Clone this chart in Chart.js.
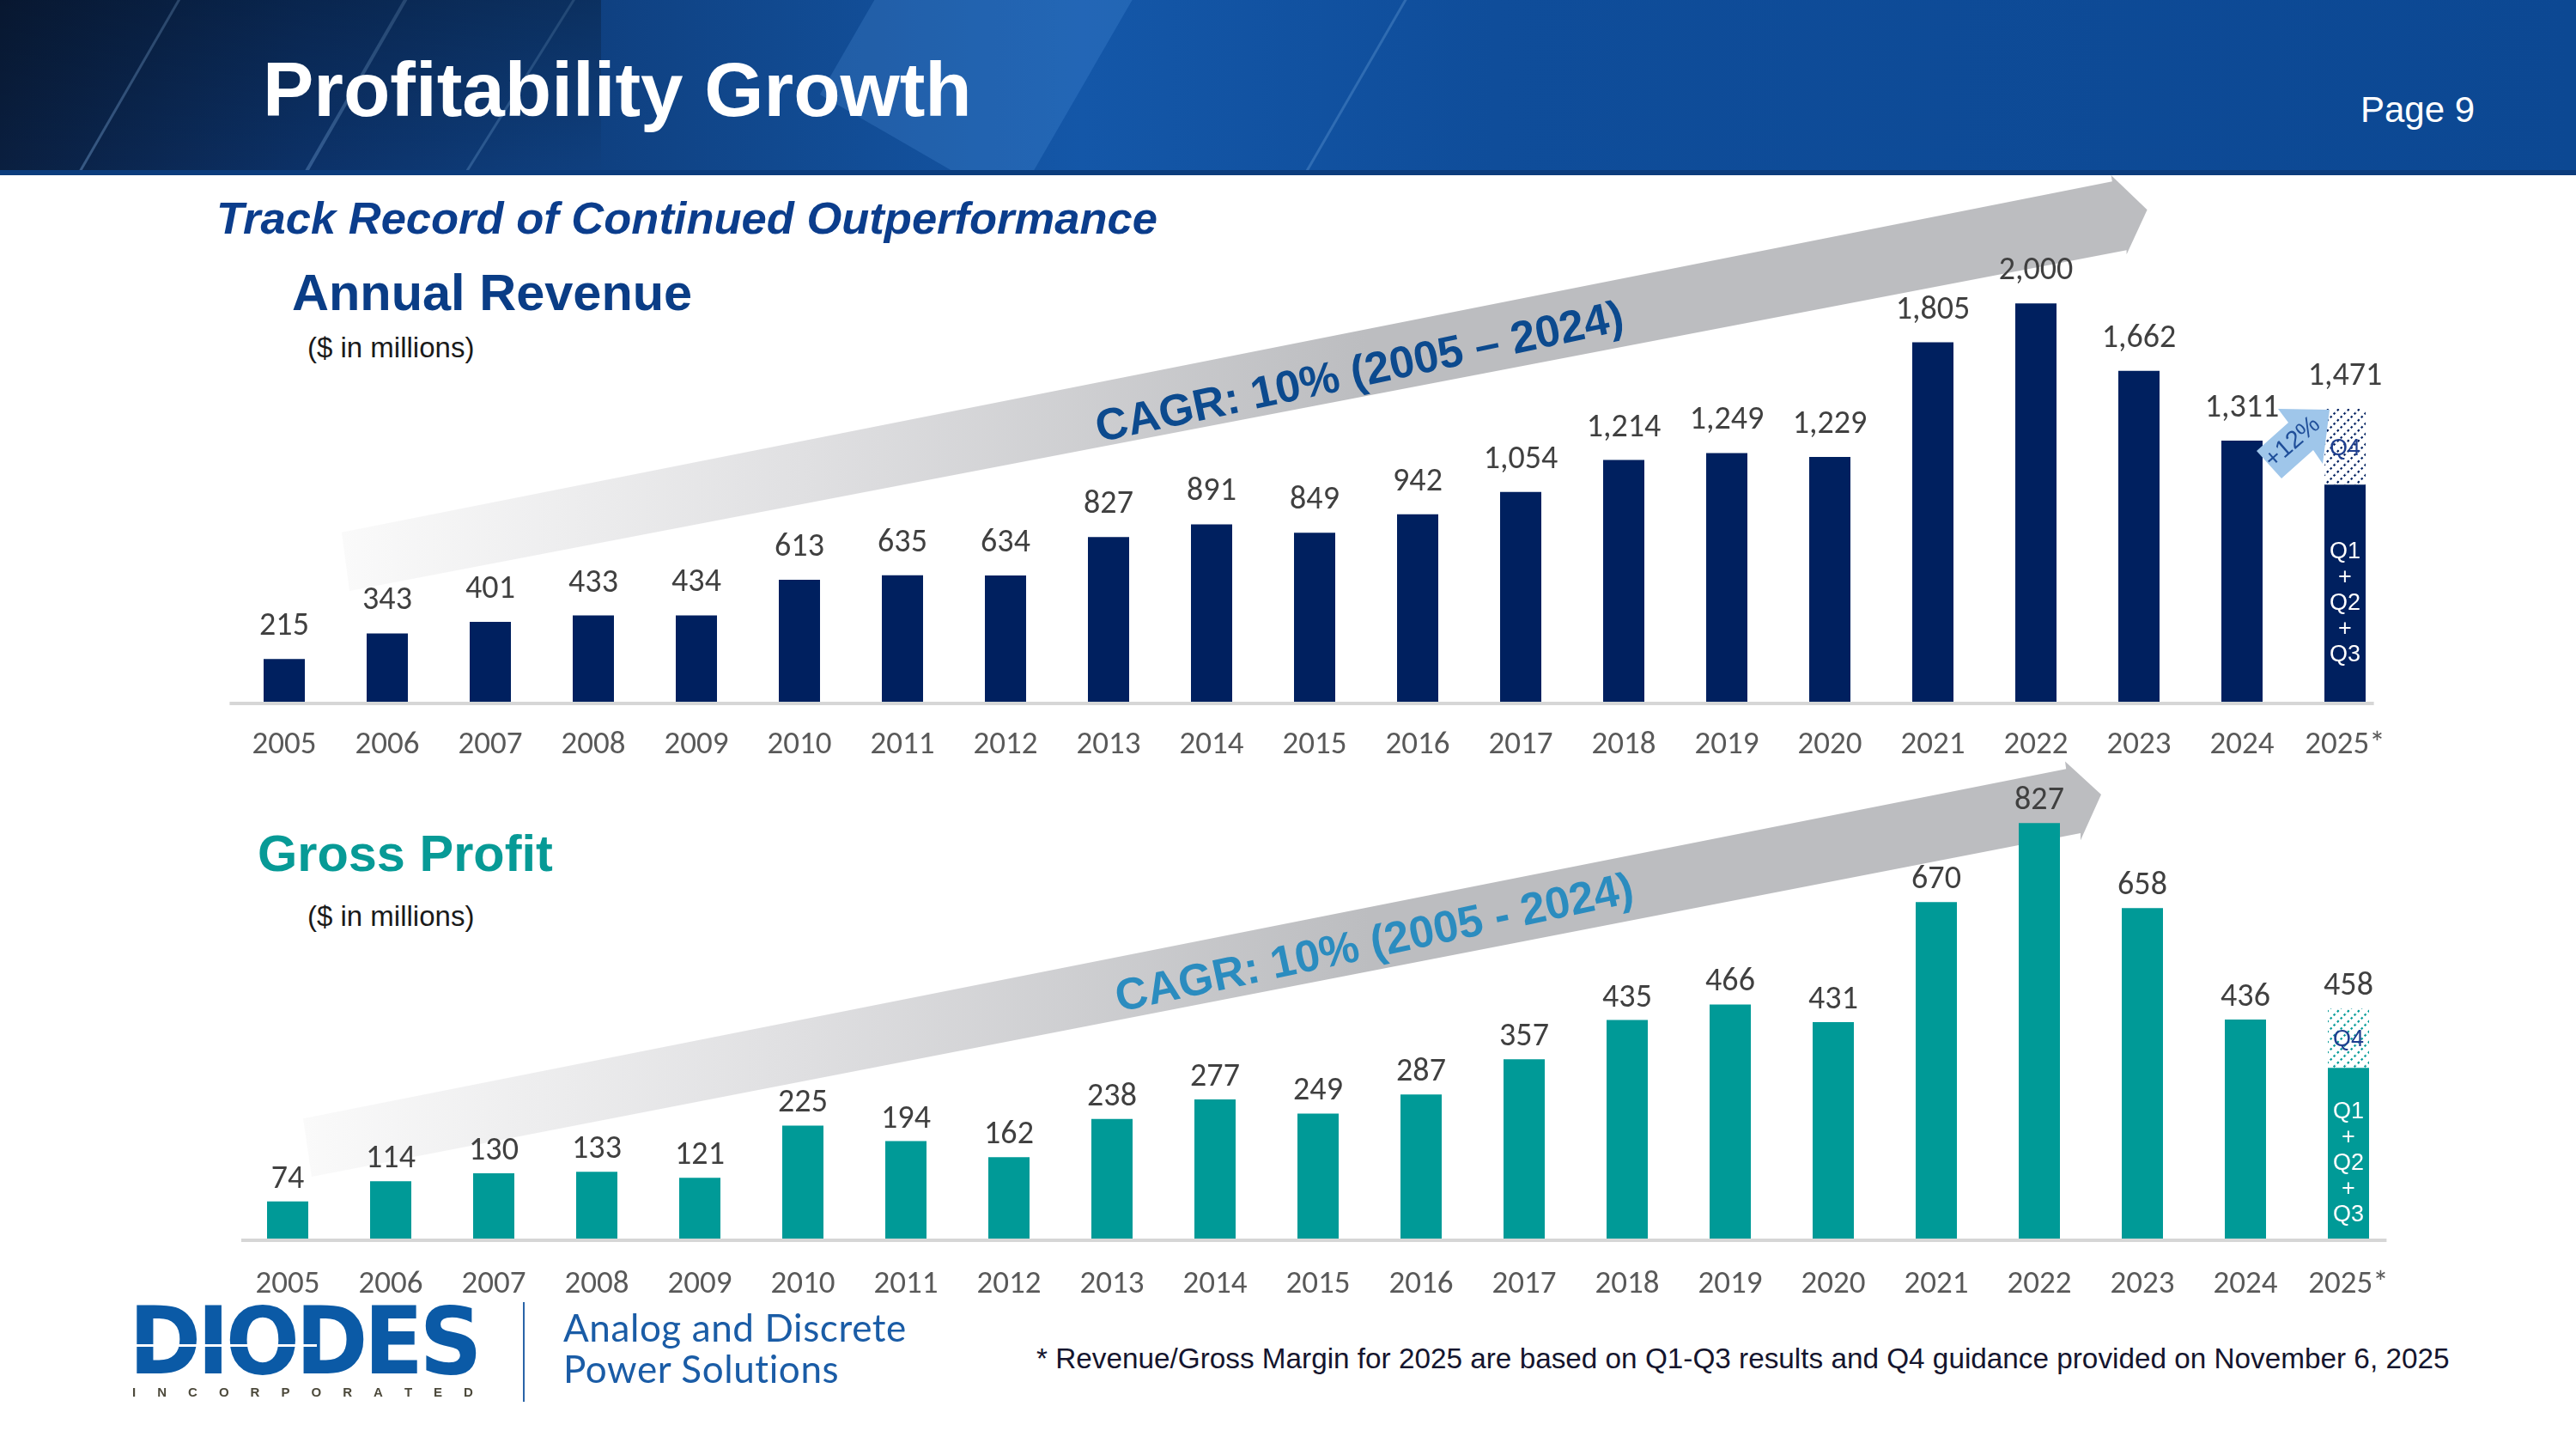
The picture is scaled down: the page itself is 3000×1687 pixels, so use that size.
<!DOCTYPE html>
<html>
<head>
<meta charset="utf-8">
<script src="https://cdn.jsdelivr.net/npm/chart.js@4.4.1/dist/chart.umd.min.js"></script>
<style>
  html,body{margin:0;padding:0;background:#fff;}
  body{width:3000px;height:1687px;position:relative;overflow:hidden;font-family:"Liberation Sans",Arial,sans-serif;}
  .abs{position:absolute;white-space:nowrap;line-height:1;}
  #hdr{position:absolute;left:0;top:0;width:3000px;height:204px;overflow:hidden;
    background:linear-gradient(90deg,#0a1f40 0%,#0c3269 12%,#11498f 30%,#1457a8 42%,#0f4d9a 58%,#0c4893 100%);}
  .streak{position:absolute;background:rgba(120,180,240,0.18);transform-origin:0 0;}
  #hdrline{position:absolute;left:0;top:198px;width:3000px;height:6px;background:#0b3c7c;}
  canvas{position:absolute;}
</style>
</head>
<body>
<div id="hdr">
  <div class="streak" style="left:60px;top:260px;width:3px;height:420px;transform:rotate(-150deg);background:rgba(140,190,240,0.35)"></div>
  <div class="streak" style="left:330px;top:250px;width:4px;height:420px;transform:rotate(-150deg);background:rgba(140,190,240,0.30)"></div>
  <div class="streak" style="left:520px;top:240px;width:3px;height:420px;transform:rotate(-148deg);background:rgba(140,190,240,0.25)"></div>
  <div class="streak" style="left:1180px;top:240px;width:260px;height:420px;transform:rotate(-150deg);background:rgba(90,160,230,0.22)"></div>
  <div class="streak" style="left:1500px;top:240px;width:3px;height:420px;transform:rotate(-150deg);background:rgba(140,190,240,0.25)"></div>
  <div class="streak" style="left:0px;top:0px;width:700px;height:204px;background:linear-gradient(180deg,rgba(0,0,0,0.25),rgba(0,0,0,0))"></div>
  <div id="hdrline"></div>
</div>
<div class="abs" style="left:306px;top:60px;font-size:89px;font-weight:bold;color:#fff;">Profitability Growth</div>
<div class="abs" style="left:2749px;top:107px;font-size:42px;color:#fff;">Page 9</div>
<div class="abs" style="left:252px;top:228px;font-size:52.5px;font-weight:bold;font-style:italic;color:#0b3d8c;">Track Record of Continued Outperformance</div>
<div class="abs" style="left:340px;top:311px;font-size:59.5px;font-weight:bold;color:#0a3d86;">Annual Revenue</div>
<div class="abs" style="left:358px;top:388px;font-size:33px;color:#1a1a1a;">($ in millions)</div>
<div class="abs" style="left:300px;top:964px;font-size:59.5px;font-weight:bold;color:#079a96;">Gross Profit</div>
<div class="abs" style="left:358px;top:1050px;font-size:33px;color:#1a1a1a;">($ in millions)</div>

<canvas id="rev" width="2700" height="715" style="left:200px;top:180px;"></canvas>
<canvas id="gp" width="2700" height="650" style="left:200px;top:880px;"></canvas>

<!-- logo -->
<div class="abs" style="left:150px;top:1508px;font-family:'DejaVu Sans',sans-serif;font-size:108px;font-weight:bold;color:#0b5aa6;letter-spacing:-5px;transform:scaleX(0.94);transform-origin:0 0;">DIODES</div>
<div class="abs" style="left:154px;top:1565px;width:215px;height:3px;background:#fff;"></div>
<div class="abs" style="left:154px;top:1613px;width:397px;height:16px;display:flex;justify-content:space-between;font-size:15px;font-weight:bold;color:#4d4a3c;">
  <span>I</span><span>N</span><span>C</span><span>O</span><span>R</span><span>P</span><span>O</span><span>R</span><span>A</span><span>T</span><span>E</span><span>D</span>
</div>
<div class="abs" style="left:609px;top:1516px;width:2px;height:116px;background:#2a64a8;"></div>
<div class="abs" style="left:656px;top:1523px;font-family:Lato,'Open Sans',sans-serif;font-size:44px;letter-spacing:0.6px;color:#1a5ca6;">Analog and Discrete</div>
<div class="abs" style="left:656px;top:1571px;font-family:Lato,'Open Sans',sans-serif;font-size:44px;letter-spacing:0.6px;color:#1a5ca6;">Power Solutions</div>
<div class="abs" style="left:1207px;top:1565px;font-size:33.3px;color:#15152e;">* Revenue/Gross Margin for 2025 are based on Q1-Q3 results and Q4 guidance provided on November 6, 2025</div>

<script>
// ---------------- DATA ----------------
const years = ['2005','2006','2007','2008','2009','2010','2011','2012','2013','2014','2015','2016','2017','2018','2019','2020','2021','2022','2023','2024','2025*'];
// Annual revenue ($M); for 2025 the first array holds Q1-Q3, the second Q4 guidance
const revenueQ1toQ3 = [215,343,401,433,434,613,635,634,827,891,849,942,1054,1214,1249,1229,1805,2000,1662,1311,1090];
const revenueQ4     = [null,null,null,null,null,null,null,null,null,null,null,null,null,null,null,null,null,null,null,null,381];
// Gross profit ($M)
const grossProfitQ1toQ3 = [74,114,130,133,121,225,194,162,238,277,249,287,357,435,466,431,670,827,658,436,340];
const grossProfitQ4     = [null,null,null,null,null,null,null,null,null,null,null,null,null,null,null,null,null,null,null,null,118];
const revenueCagrText = 'CAGR: 10% (2005 \u2013 2024)';
const grossProfitCagrText = 'CAGR: 10% (2005 - 2024)';
const growthText = '+12%';
const splitLabelsBase = ['Q1','+','Q2','+','Q3'];
const splitLabelQ4 = 'Q4';

// ---------------- STYLE ----------------
const NAVY = '#00205f';
const TEAL = '#009a97';
const LABEL_FONT = 'Carlito, Lato, sans-serif';

function hatch(color){
  const c = document.createElement('canvas');
  c.width = 12; c.height = 12;
  const g = c.getContext('2d');
  g.fillStyle = '#fff'; g.fillRect(0,0,12,12);
  g.strokeStyle = color; g.lineWidth = 2.2; g.setLineDash([2.5,3]);
  g.beginPath(); g.moveTo(-2,14); g.lineTo(14,-2); g.stroke();
  g.beginPath(); g.moveTo(-2,2); g.lineTo(2,-2); g.stroke();
  g.beginPath(); g.moveTo(10,14); g.lineTo(14,10); g.stroke();
  return g.createPattern(c,'repeat');
}

const decoPlugin = {
  id: 'deco',
  beforeDatasetsDraw(chart, args, o){
    const ctx = chart.ctx, xs = chart.scales.x, ys = chart.scales.y;
    const P = p => [xs.getPixelForValue(p[0]), ys.getPixelForValue(p[1])];
    const pts = o.band.map(P);
    const g = ctx.createLinearGradient(pts[0][0], 0, xs.getPixelForValue(o.gradEnd), 0);
    g.addColorStop(0, 'rgba(250,250,250,1)');
    g.addColorStop(0.45, '#e0e0e2');
    g.addColorStop(1, '#bcbdc0');
    ctx.save();
    ctx.beginPath();
    pts.forEach((p,i)=> i? ctx.lineTo(p[0],p[1]) : ctx.moveTo(p[0],p[1]));
    ctx.closePath();
    ctx.fillStyle = g; ctx.fill();
    // baseline
    const yb = ys.getPixelForValue(0);
    ctx.fillStyle = '#d6d6d6';
    ctx.fillRect(xs.getPixelForValue(o.axisFrom), yb, xs.getPixelForValue(o.axisTo) - xs.getPixelForValue(o.axisFrom), 4);
    // CAGR text
    const t = P(o.textAt);
    ctx.translate(t[0], t[1]);
    ctx.rotate(o.textAngle*Math.PI/180);
    ctx.font = 'bold 52px "Liberation Sans", Arial, sans-serif';
    ctx.fillStyle = o.textColor; ctx.textAlign='center'; ctx.textBaseline='middle';
    ctx.fillText(o.text, 0, 0);
    ctx.restore();
  },
  afterDatasetsDraw(chart, args, o){
    const ctx = chart.ctx, xs = chart.scales.x, ys = chart.scales.y;
    const base = chart.data.datasets[0].data, q4 = chart.data.datasets[1].data;
    ctx.save();
    // value labels
    ctx.font = '38px ' + LABEL_FONT;
    ctx.fillStyle = '#404040'; ctx.textAlign = 'center'; ctx.textBaseline = 'alphabetic';
    base.forEach((v,i)=>{
      const total = v + (q4[i] || 0);
      ctx.fillText(total.toLocaleString('en-US'), xs.getPixelForValue(i), ys.getPixelForValue(total) - o.labelGap);
    });
    // split labels on the last bar
    const last = base.length - 1;
    const bx = xs.getPixelForValue(last);
    const yTopBase = ys.getPixelForValue(base[last]);
    const yBottom = ys.getPixelForValue(0);
    const yTotal = ys.getPixelForValue(base[last] + q4[last]);
    ctx.font = '27px "Liberation Sans", Arial, sans-serif';
    ctx.textBaseline = 'middle';
    ctx.fillStyle = '#ffffff';
    const mid = (yTopBase + yBottom)/2 + 12;
    splitLabelsBase.forEach((s,k)=> ctx.fillText(s, bx, mid + (k-2)*30));
    ctx.fillStyle = '#1f3f8f';
    ctx.fillText(splitLabelQ4, bx, (yTopBase + yTotal)/2 + 2);
    // growth arrow (revenue only)
    if (o.growth) {
      const ox = xs.getPixelForValue(last-1), oy = ys.getPixelForValue(base[last-1]);
      const shape = [[17,12],[54,-21],[42,-37],[102,-36],[94,27],[83,11],[46,44]];
      ctx.beginPath();
      shape.forEach((p,i)=> i? ctx.lineTo(ox+p[0],oy+p[1]) : ctx.moveTo(ox+p[0],oy+p[1]));
      ctx.closePath();
      ctx.fillStyle = '#9fc6ea'; ctx.fill();
      ctx.translate(ox+59, oy+2);
      ctx.rotate(-41*Math.PI/180);
      ctx.font = '29px "Liberation Sans", Arial, sans-serif';
      ctx.fillStyle = '#1f4e99'; ctx.textAlign='center'; ctx.textBaseline='middle';
      ctx.fillText(growthText, 0, 0);
    }
    ctx.restore();
  }
};

function makeChart(id, baseData, q4Data, color, yMax, axisH, tickPad, padL, padR, padT, deco){
  return new Chart(document.getElementById(id), {
    type: 'bar',
    data: {
      labels: years,
      datasets: [
        {data: baseData, backgroundColor: color, barPercentage: 0.4, categoryPercentage: 1, borderWidth: 0},
        {data: q4Data, backgroundColor: hatch(color), barPercentage: 0.4, categoryPercentage: 1, borderWidth: 0}
      ]
    },
    options: {
      responsive: false, animation: false, devicePixelRatio: 1,
      layout: {padding: {left: padL, right: padR, top: padT, bottom: 0}},
      plugins: {legend: {display: false}, tooltip: {enabled: false}, deco: deco},
      scales: {
        x: {
          stacked: true,
          grid: {display: false, drawTicks: false},
          border: {display: false},
          ticks: {color: '#595959', font: {family: LABEL_FONT, size: 37}, padding: tickPad, maxRotation: 0, autoSkip: false},
          afterFit: s => { s.height = axisH; }
        },
        y: {stacked: true, display: false, min: 0, max: yMax}
      }
    },
    plugins: [decoPlugin]
  });
}

makeChart('rev', revenueQ1toQ3, revenueQ4, NAVY, 2640, 78, 29, 71, 109, 25, {
  band: [[0.558,851],[17.74,2613],[17.73,2644],[18.08,2471],[17.88,2246],[17.88,2268],[0.633,557]],
  gradEnd: 10.5, textAt: [10.44,1646], textAngle: -12, text: revenueCagrText, textColor: '#0c4a8e',
  labelGap: 28, growth: true, axisFrom: -0.53, axisTo: 20.28
});
makeChart('gp', grossProfitQ1toQ3, grossProfitQ4, TEAL, 961, 88, 32, 75, 105, 0, {
  band: [[0.15,239],[17.26,935],[17.25,950],[17.6,884],[17.40,793],[17.40,807],[0.233,123]],
  gradEnd: 10.5, textAt: [10.55,585], textAngle: -12, text: grossProfitCagrText, textColor: '#2b8cbf',
  labelGap: 16, growth: false, axisFrom: -0.45, axisTo: 20.37
});
</script>
</body>
</html>
